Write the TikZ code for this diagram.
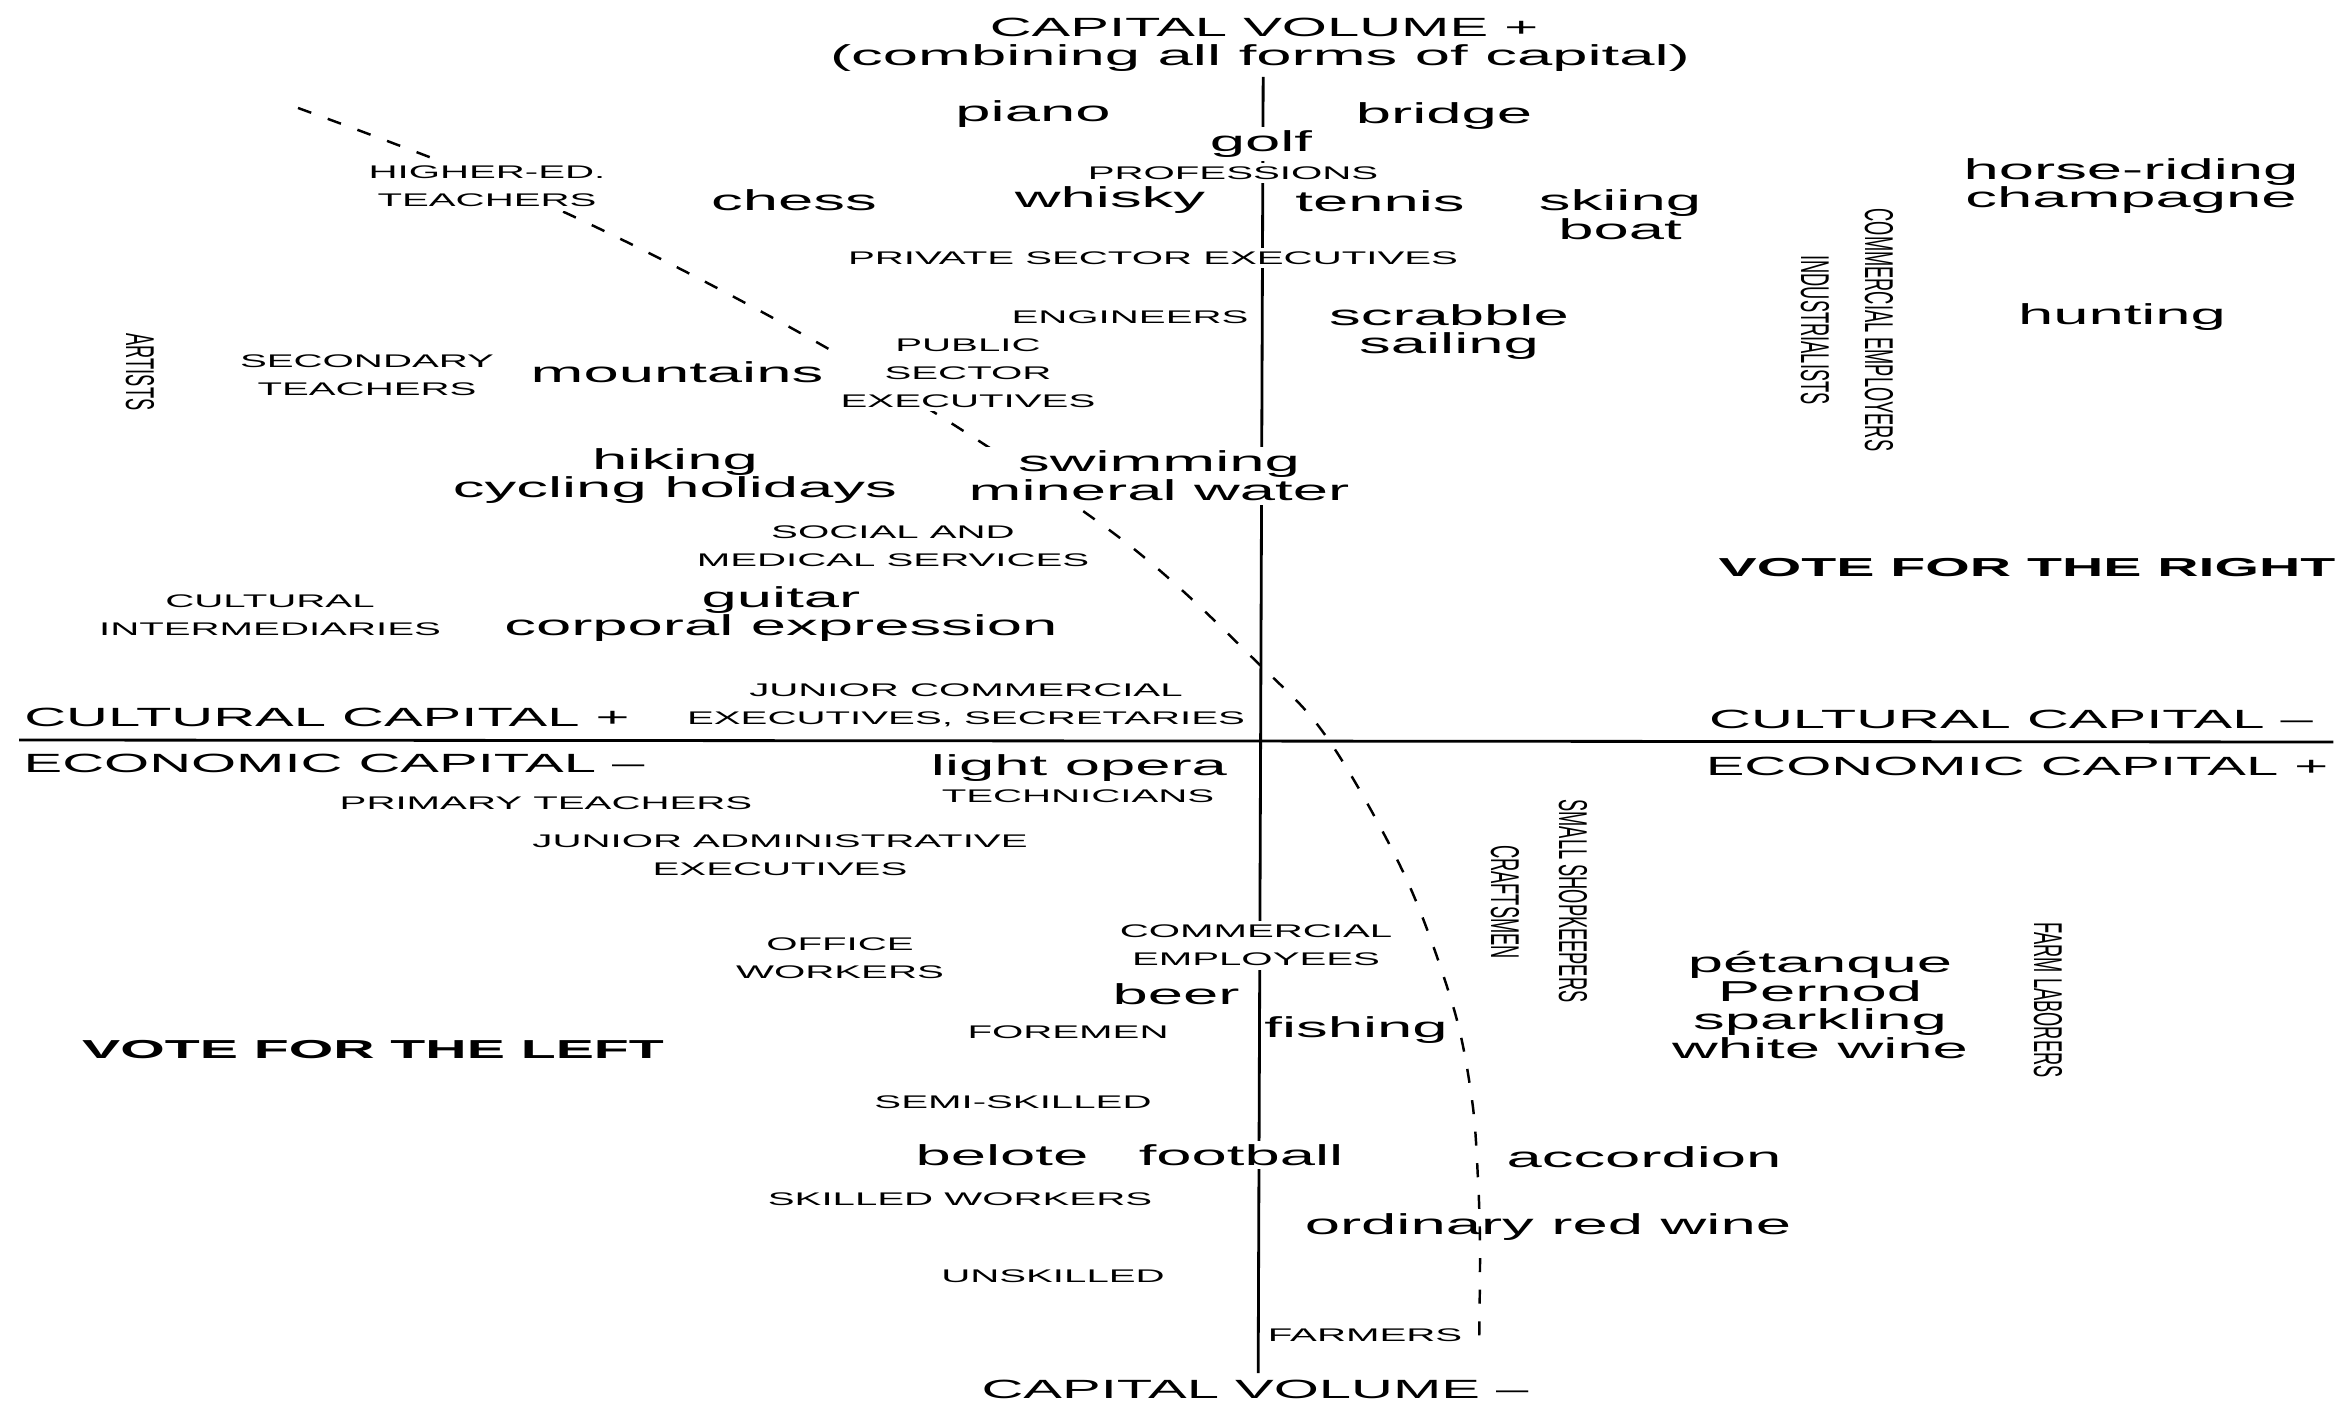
\documentclass[tikz,border=0pt]{standalone}
\usepackage{fontspec}
\setmainfont{Liberation Sans}

\pgfdeclarelayer{bg}
\pgfsetlayers{bg,main}

\begin{document}
\begin{tikzpicture}[x=0.454545cm, y=1cm, xscale=2.2,
    every node/.append style={transform shape, inner sep=1pt},
    axislab/.style={font=\fontsize{7.5}{9}\selectfont},
    act/.style={font=\fontsize{8.2}{8.2}\selectfont, align=center},
    occ/.style={font=\fontsize{5.2}{8}\selectfont, align=center},
    vocc/.style={occ, rotate=-90},
    vote/.style={font=\bfseries\fontsize{7.4}{9}\selectfont},
    mask/.style={fill=white},
    axis/.style={line width=0.8pt},
    border/.style={dash pattern=on 4pt off 5pt, line width=0.7pt}]
    \useasboundingbox (0,0) rectangle (23.43,-14.04);

    %% ends of the two axes
    \node[axislab] (volplus) at (12.64,-0.27) {CAPITAL VOLUME +};
    \node[act] (volnote) at (12.60,-0.58) {(combining all forms of capital)};
    \node[axislab] (volminus) at (12.55,-13.89) {CAPITAL VOLUME –};
    \node[axislab] (culplus) at (3.27,-7.17) {CULTURAL CAPITAL +};
    \node[axislab] (ecominus) at (3.34,-7.63) {ECONOMIC CAPITAL –};
    \node[axislab] (culminus) at (20.11,-7.19) {CULTURAL CAPITAL –};
    \node[axislab] (ecoplus) at (20.17,-7.66) {ECONOMIC CAPITAL +};
    \node[vote] (voteright) at (20.27,-5.68) {VOTE FOR THE RIGHT};
    \node[vote] (voteleft) at (3.73,-10.50) {VOTE FOR THE LEFT};

    \coordinate (axtop) at (12.63,-0.77);
    \coordinate (axbot) at (12.58,-13.73);
    \coordinate (axleft) at (0.19,-7.40);
    \coordinate (axright) at (23.33,-7.42);

    %% occupations
    \node[occ, mask] (higher) at (4.87,-1.865) {HIGHER-ED.\\TEACHERS};
    \node[occ, mask] (profs) at (12.33,-1.73) {PROFESSIONS};
    \node[occ, mask] (private) at (11.53,-2.58) {PRIVATE SECTOR EXECUTIVES};
    \node[occ] (engineers) at (11.30,-3.17) {ENGINEERS};
    \node[occ, mask] (public) at (9.68,-3.73) {PUBLIC\\SECTOR\\EXECUTIVES};
    \node[occ] (secondary) at (3.67,-3.75) {SECONDARY\\TEACHERS};
    \node[vocc] (artists) at (1.40,-3.72) {ARTISTS};
    \node[vocc] (industrial) at (18.15,-3.30) {INDUSTRIALISTS};
    \node[vocc] (employers) at (18.79,-3.30) {COMMERCIAL EMPLOYERS};
    \node[occ] (social) at (8.93,-5.46) {SOCIAL AND\\MEDICAL SERVICES};
    \node[occ] (intermed) at (2.70,-6.15) {CULTURAL\\INTERMEDIARIES};
    \node[occ] (juncom) at (9.66,-7.05) {JUNIOR COMMERCIAL\\EXECUTIVES, SECRETARIES};
    \node[occ] (technicians) at (10.78,-7.96) {TECHNICIANS};
    \node[occ] (primary) at (5.46,-8.03) {PRIMARY TEACHERS};
    \node[occ] (junadmin) at (7.80,-8.55) {JUNIOR ADMINISTRATIVE\\EXECUTIVES};
    \node[vocc] (shopkeepers) at (15.73,-9.01) {SMALL SHOPKEEPERS};
    \node[vocc] (craftsmen) at (15.05,-9.02) {CRAFTSMEN};
    \node[occ] (office) at (8.40,-9.58) {OFFICE\\WORKERS};
    \node[occ, mask] (comemp) at (12.56,-9.455) {COMMERCIAL\\EMPLOYEES};
    \node[vocc] (farmlab) at (20.48,-10.00) {FARM LABORERS};
    \node[occ] (foremen) at (10.68,-10.32) {FOREMEN};
    \node[occ] (semi) at (10.13,-11.02) {SEMI-SKILLED};
    \node[occ] (skilled) at (9.60,-11.99) {SKILLED WORKERS};
    \node[occ] (unskilled) at (10.53,-12.76) {UNSKILLED};
    \node[occ] (farmers) at (13.65,-13.35) {FARMERS};

    %% activities
    \foreach \w/\x/\y in {piano/10.33/1.14, bridge/14.44/1.16, chess/7.94/2.00,
        whisky/11.10/2.00, tennis/13.80/2.01, hunting/21.22/3.17,
        mountains/6.77/3.72, beer/11.76/9.94, fishing/13.56/10.30,
        belote/10.02/11.55, accordion/16.44/11.57}
        \node[act] (\w) at (\x,-\y) {\w};
    \node[act, mask] (golf) at (12.61,-1.44) {golf};
    \node[act] (skiing) at (16.20,-2.15) {skiing\\boat};
    \node[act] (horse) at (21.31,-1.86) {horse-riding\\champagne};
    \node[act] (scrabble) at (14.49,-3.32) {scrabble\\sailing};
    \node[act] (hiking) at (6.75,-4.76) {hiking\\cycling holidays};
    \node[act, mask] (swimming) at (11.59,-4.76) {swimming\\mineral water};
    \node[act] (guitar) at (7.81,-6.14) {guitar\\corporal expression};
    \node[act] (opera) at (10.79,-7.68) {light opera};
    \node[act] (petanque) at (18.20,-10.05) {pétanque\\Pernod\\sparkling\\white wine};
    \node[act, mask] (football) at (12.41,-11.55) {football};
    \node[act] (redwine) at (15.48,-12.27) {ordinary red wine};

    \begin{pgfonlayer}{bg}
        \draw[axis] (axtop) -- (axbot);
        \draw[axis] (axleft) -- (axright);
        % dividing line between left and right votes
        \draw[border] plot[smooth, tension=0.55] coordinates {
            (2.98,-1.08) (5.66,-2.13) (8.53,-3.63) (11.12,-5.32)
            (12.62,-6.67) (13.30,-7.42) (14.05,-8.76) (14.53,-10.06)
            (14.72,-11.00) (14.78,-11.80) (14.80,-12.50) (14.79,-13.51)};
    \end{pgfonlayer}
\end{tikzpicture}
\end{document}
